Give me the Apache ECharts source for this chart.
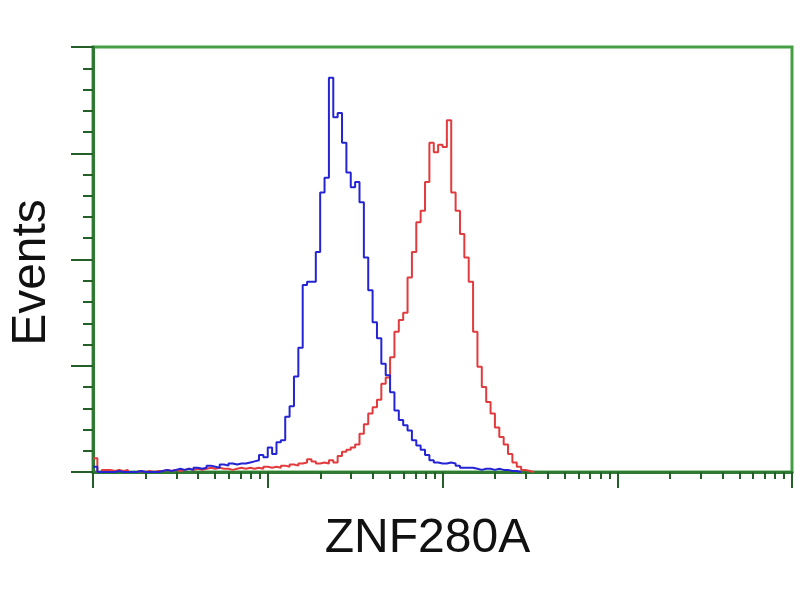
<!DOCTYPE html>
<html>
<head>
<meta charset="utf-8">
<script src="https://cdn.jsdelivr.net/npm/echarts@6/dist/echarts.min.js"></script>
<style>html,body{margin:0;padding:0;background:#fff}#c{width:800px;height:600px}</style>
</head>
<body>
<div id="c"></div>
<script>
// Histogram bins on a log10 scale: bin i starts at binStart + i*binWidth (decades)
const binStart = 0;
const binWidth = 0.025;
const xTitle = 'ZNF280A';
const yTitle = 'Events';

// Control (blue) counts per bin
const blueCounts = [
  5,0,0,0,0,1,0,0,0,0,1,0,0,0,0,1,
  2,1,2,3,2,3,2,4,3,4,6,5,4,7,
  6,8,7,8,8,9,10,11,16,14,23,17,28,30,52,62,90,117,176,179,
  179,207,263,277,371,334,338,310,282,268,273,254,202,171,141,126,102,91,75,58,
  49,44,39,30,25,21,16,11,9,8,8,9,8,6,4,4,4,3,2,3,
  3,2,3,2,2,1,1,0
];
// ZNF280A-stained (red) counts per bin
const redCounts = [
  13,0,2,2,1,2,1,2,0,0,1,0,1,0,1,1,
  2,1,2,1,2,3,2,3,2,3,4,3,4,3,
  3,2,3,4,3,4,3,4,3,5,4,5,4,6,5,7,6,8,9,12,
  10,8,9,8,11,9,15,19,21,23,26,36,45,55,61,68,83,89,108,132,
  143,150,183,207,235,246,273,310,301,308,306,331,263,246,224,202,179,132,99,80,
  66,55,42,33,26,17,9,5,2,1,0
];

// y axis range
const yMax = 400, yStep = 100;
const xMin = 0, xMax = 4;

function toSteps(counts) {
  const pts = counts.map((c, i) => [binStart + i * binWidth, c]);
  pts.push([binStart + counts.length * binWidth, counts[counts.length - 1]]);
  return pts;
}

// minor ticks of a log axis: log10(k) within each decade
const minorLogTicks = [];
for (let d = xMin; d < xMax; d++) {
  for (let k = 2; k <= 9; k++) minorLogTicks.push(d + Math.log10(k));
}

const chart = echarts.init(document.getElementById('c'), null, {renderer: 'canvas'});
const axisGreen = '#2f7a33';
const tickGreen = '#245f27';
chart.setOption({
  animation: false,
  backgroundColor: '#ffffff',
  grid: {left: 93, top: 47, right: 8, bottom: 128, outerBoundsMode: 'none', containLabel: false,
         show: true, borderColor: '#45a045', borderWidth: 3, backgroundColor: 'transparent'},
  xAxis: [{
    type: 'value', min: xMin, max: xMax, interval: 1,
    name: xTitle, nameLocation: 'middle', nameGap: 43,
    nameTextStyle: {fontFamily: 'Liberation Sans', fontSize: 48, color: '#111', padding: [0, 30, 0, 0]},
    axisLine: {show: true, onZero: false, lineStyle: {color: axisGreen, width: 3}},
    axisTick: {show: true, length: 16, lineStyle: {color: tickGreen, width: 2}},
    axisLabel: {show: false},
    splitLine: {show: false}
  }, {
    type: 'value', min: xMin, max: xMax, position: 'bottom',
    axisLine: {show: false},
    axisTick: {show: true, length: 7, customValues: minorLogTicks, lineStyle: {color: tickGreen, width: 2}},
    axisLabel: {show: false},
    splitLine: {show: false}
  }],
  yAxis: {
    type: 'value', min: 0, max: yMax, interval: yStep,
    name: yTitle, nameLocation: 'middle', nameGap: 37, nameRotate: 90,
    nameTextStyle: {fontFamily: 'Liberation Sans', fontSize: 48, color: '#111', padding: [0, 26, 0, 0]},
    axisLine: {show: true, onZero: false, lineStyle: {color: axisGreen, width: 3}},
    axisTick: {show: true, length: 22, lineStyle: {color: tickGreen, width: 2}},
    minorTick: {show: true, splitNumber: 5, length: 10, lineStyle: {color: tickGreen, width: 2}},
    axisLabel: {show: false},
    splitLine: {show: false},
    minorSplitLine: {show: false}
  },
  series: [{
    type: 'line', name: 'Control', step: 'end', data: toSteps(blueCounts),
    symbol: 'none', lineStyle: {color: '#2424d4', width: 2}, z: 3
  }, {
    type: 'line', name: 'ZNF280A', step: 'end', data: toSteps(redCounts),
    symbol: 'none', lineStyle: {color: '#e23b3e', width: 2}, z: 2
  }]
});
</script>
</body>
</html>
